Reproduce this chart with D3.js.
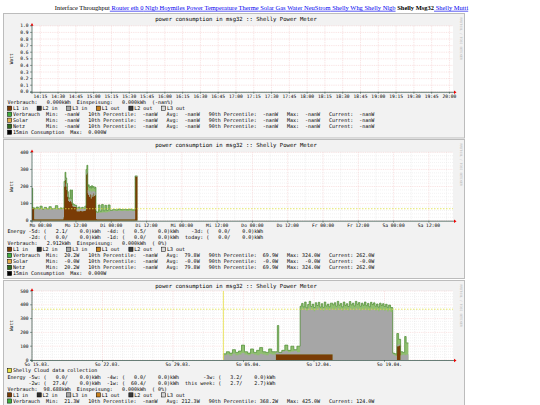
<!DOCTYPE html>
<html><head><meta charset="utf-8">
<script src="https://cdn.jsdelivr.net/npm/d3@7"></script>
<style>
body{margin:0;background:#fff;overflow:hidden}
svg text{font-family:"DejaVu Sans Mono",monospace;white-space:pre}
</style></head><body>
<svg id="c" width="540" height="405"></svg>
<script>
// ================= DATA =================
const navLabels=["Interface Throughput","Router","eth 0","Nlgb","Hoymiles","Power","Temperature","Therme","Solar","Gas","Water","NeuStrom","Shelly Whg","Shelly Nlgb","Shelly Msg32","Shelly Mutti"];
const navPlain="Interface Throughput";
const navCurrent="Shelly Msg32";

const chartTitle="power consumption in msg32 :: Shelly Power Meter";
const yAxisLabel="Watt";
const watermark="RRDTOOL / TOBI OETIKER";
const phaseNames=["L1 in","L2 in","L3 in","L1 out","L2 out","L3 out"];
const phaseColors=["#7a3c06","#2e2e2e","#a6a6a6","#c8801e","#3a3a3a","#d6d6d6"];
const seriesNames=["Verbrauch","Solar","Netz"];
const seriesColors=["#3fae3f","#e3ab4a","#2f6a1d"];
const consumptionName="15min Consumption";
const cloudName="Shelly Cloud data collection";

// ---- panel 1 (last 6 hours, no data) ----
const p1XTickMinutes=[15,30,45,60,75,90,105,120,135,150,165,180,195,210,225,240,255,270,285,300,315,330,345,360];
const p1XTickLabels=["14:15","14:30","14:45","15:00","15:15","15:30","15:45","16:00","16:15","16:30","16:45","17:00","17:15","17:30","17:45","18:00","18:15","18:30","18:45","19:00","19:15","19:30","19:45","20:00"];
const p1YTicks=[0,0.1,0.2,0.3,0.4,0.5,0.6,0.7,0.8,0.9,1.0];
const p1Summary=["0.000","0.000","-nan%"];
const p1StatMin=["-nan","-nan","-nan"];
const p1StatP10=["-nan","-nan","-nan"];
const p1StatAvg=["-nan","-nan","-nan"];
const p1StatP90=["-nan","-nan","-nan"];
const p1StatMax=["-nan","-nan","-nan"];
const p1StatCur=["-nan","-nan","-nan"];
const p1ConsMax="0.000";

// ---- panel 2 (last 6 days) hours after Mo 00:00 ----
const p2XTickHours=[0,12,24,36,48,60,72,84,96,108,120,132];
const p2XTickLabels=["Mo 00:00","Mo 12:00","Di 00:00","Di 12:00","Mi 00:00","Mi 12:00","Do 00:00","Do 12:00","Fr 00:00","Fr 12:00","Sa 00:00","Sa 12:00"];
const p2YTicks=[0,100,200,300,400];
const p2Hours=[-2.96,-2.73,-2.17,-1.5,-0.8,-0.24,0.5,1.2,2.0,2.8,3.6,4.3,5.0,5.8,6.56,7.2,7.7,7.93,8.27,8.55,8.84,9.1,9.4,9.7,9.97,10.25,10.54,10.8,11.1,11.6,12.24,12.8,13.37,13.9,14.5,15.0,15.4,15.7,16.0,16.2,16.5,16.77,17.05,17.3,17.6,17.9,18.2,18.5,18.8,19.05,19.6,20.2,20.7,21.3,21.8,22.4,22.9,23.6,24.5,25.4,26.3,27.2,28.1,29.0,30.0,31.0,32.1,32.9];
const p2L1In =[80,72,8,8,8,8,8,8,8,8,8,8,8,8,8,8,20,200,238,200,180,140,115,110,115,110,100,85,82,80,55,55,58,55,57,60,270,277,160,150,140,155,130,150,140,160,145,150,10,8,8,8,8,8,8,8,8,8,8,8,8,8,8,8,8,8,258,258];
const p2L3In =[0,0,58,60,58,60,57,60,58,59,58,60,57,60,58,60,50,20,20,15,15,15,10,10,10,10,10,5,5,5,15,15,14,15,14,12,10,10,20,25,30,20,35,25,30,15,25,20,35,38,40,38,40,42,40,42,45,50,50,48,50,48,50,49,50,48,4,4];
const p2Verbrauch=[190,76,72,80,70,85,68,78,70,82,70,72,88,70,75,72,75,230,283,250,218,170,135,130,180,130,180,100,95,90,75,80,72,78,72,85,300,324,200,210,195,200,190,205,195,200,190,195,55,50,92,55,95,58,90,60,92,62,66,64,68,65,66,65,67,64,262,262];
const p2P90=69.9;
const p2Energy=[["-5d:","2.1","0.0"],["-4d:","0.5","0.0"],["-3d:","0.0","0.0"],["-2d:","0.0","0.0"],["-1d:","0.0","0.0"],["today:","0.0","0.0"]];
const p2Summary=["2.912","0.000"," 0%"];
const p2StatMin=["20.2","-0.0","20.2"];
const p2StatP10=["-nan","-nan","-nan"];
const p2StatAvg=["79.8","-0.0","79.8"];
const p2StatP90=["69.9","-0.0","69.9"];
const p2StatMax=["324.0","-0.0","324.0"];
const p2StatCur=["262.0","-0.0","262.0"];
const p2ConsMax="0.000";

// ---- panel 3 (last 6 weeks) days after So 15.03. 00:00 ----
const p3XTickDays=[0.5,7.5,14.5,21.5,28.5,35.5];
const p3XTickLabels=["So 15.03.","So 22.03.","So 29.03.","So 05.04.","So 12.04.","So 19.04."];
const p3YTicks=[0,100,200,300,400,500];
const p3CloudStart=19.0;
const p3Days=[19.0,19.3,19.6,19.9,20.2,20.5,20.8,21.1,21.4,21.7,22.0,22.3,22.6,22.9,23.2,23.5,23.8,24.2,24.36,24.5,24.8,25.1,25.4,25.7,26.0,26.3,
 26.62,26.77,26.92,27.07,27.22,27.37,27.52,27.67,27.82,27.97,28.12,28.27,28.42,28.57,28.72,28.87,29.02,29.17,29.32,29.47,29.62,
 29.86,30.01,30.16,30.31,30.46,30.61,30.76,30.91,31.06,31.21,31.36,31.51,31.66,31.81,31.96,32.11,32.26,32.41,32.56,32.71,32.86,33.01,33.16,33.31,33.46,33.61,33.76,33.91,34.06,34.21,34.36,34.51,34.66,34.81,34.96,35.11,35.26,35.41,35.6,
 35.82,36.0,36.22,36.4,36.6,36.8,37.0,37.15,37.37];
const p3L1In =[0,0,0,0,0,0,0,0,0,0,0,0,0,0,0,0,0,42,42,42,42,42,42,42,42,42,
 42,42,42,42,42,42,42,42,42,42,42,42,42,42,42,42,42,42,42,42,42,
 0,0,0,0,0,0,0,0,0,0,0,0,0,0,0,0,0,0,0,0,0,0,0,0,0,0,0,0,0,0,0,0,0,0,0,0,0,0,0,
 0,0,100,105,0,0,0,0,0];
const p3L3In =[35,40,30,45,35,40,50,40,35,45,40,35,45,40,35,45,40,10,15,10,20,25,15,20,25,15,
 318,330,322,335,315,328,338,320,326,312,330,322,336,318,328,314,332,320,326,316,330,
 365,372,360,376,364,370,356,374,362,368,358,376,364,370,360,378,366,372,358,370,362,374,360,368,356,372,364,370,358,366,354,370,360,366,356,364,352,360,348,
 40,30,10,10,35,40,35,40,40];
const p3Verbrauch=[45,60,50,75,55,65,108,60,50,80,55,70,90,60,55,80,60,60,250,55,70,108,70,100,75,100,
 390,410,385,420,378,402,425,388,405,380,415,395,418,384,408,382,420,392,405,386,412,
 400,415,390,425,398,410,385,420,396,408,388,424,400,412,392,425,404,416,390,412,398,420,394,410,386,418,402,414,390,406,384,412,396,408,388,404,382,398,380,
 50,45,192,150,60,55,170,124,124];
const p3P90=368.2;
const p3Energy=[["-5w:","0.0","0.0"],["-4w:","0.0","0.0"],["-3w:","3.2","0.0"],["-2w:","27.4","0.0"],["-1w:","60.4","0.0"],["this week:","2.7","2.7"]];
const p3Summary=["98.688","0.000"," 0%"];
const p3StatMin=["21.3"];
const p3StatP10=["-nan"];
const p3StatAvg=["212.3"];
const p3StatP90=["368.2"];
const p3StatMax=["425.0"];
const p3StatCur=["124.0"];

// ================= DRAW =================
const svg=d3.select("#c");
const FS=5.0;
const PX0=32, PX1=453;
const BX0=3.5, BX1=464.5;

(function(){
  const t=svg.append("text").attr("x",261.5).attr("y",9.8).attr("text-anchor","middle")
    .style("font-family","'Liberation Serif','DejaVu Serif',serif").style("font-size","6.48px").style("white-space","normal");
  navLabels.forEach((n,i)=>{
    const s=t.append("tspan").text((i?" ":"")+n);
    if(n===navPlain){s.attr("fill","#000");}
    else if(n===navCurrent){s.attr("fill","#000").style("font-weight","bold");}
    else {s.attr("fill","#0000ee").style("text-decoration","underline");}
  });
})();

const fmtW=v=>(v+"W").padStart(7);
function statRow(name,mn,p10,av,p90,mx,cu){
  return name.padEnd(10)+" Min:"+fmtW(mn)+"   10th Percentile:"+fmtW(p10)+"   Avg:"+fmtW(av)+"   90th Percentile:"+fmtW(p90)+"   Max:"+fmtW(mx)+"   Current:"+fmtW(cu);
}
function swatch(g,x,yc,color){
  g.append("rect").attr("x",x).attr("y",yc-2.2).attr("width",4.2).attr("height",4.2)
    .attr("fill",color).attr("stroke","#000").attr("stroke-width",0.5);
}
function txt(g,x,yc,s,opt={}){
  return g.append("text").attr("x",x).attr("y",yc+1.8).attr("xml:space","preserve")
    .style("font-size",(opt.fs||FS)+"px").attr("fill",opt.fill||"#000")
    .attr("text-anchor",opt.anchor||"start").text(s);
}

function drawPanel(cfg){
  const g=svg.append("g");
  g.append("rect").attr("x",BX0).attr("y",cfg.boxTop).attr("width",BX1-BX0).attr("height",cfg.boxH)
    .attr("fill","#f2f2f2").attr("stroke","#bcbcbc").attr("stroke-width",1);
  g.append("text").attr("transform",`translate(${BX1-4.2},${cfg.boxTop+4}) rotate(90)`)
    .style("font-size","3.2px").attr("fill","#b8b8b8").text(watermark);
  txt(g,236,cfg.boxTop+5.3,chartTitle,{fs:5.6,anchor:"middle"});
  const x=cfg.x, y=cfg.y;
  const top=y.range()[1], bot=y.range()[0];
  g.append("rect").attr("x",PX0).attr("y",top).attr("width",PX1-PX0).attr("height",bot-top).attr("fill","#fff");
  const grid=g.append("g");
  cfg.yMinor.forEach(v=>grid.append("line").attr("x1",PX0).attr("x2",PX1).attr("y1",y(v)).attr("y2",y(v))
    .attr("stroke","#e2e2e2").attr("stroke-width",0.45).attr("stroke-dasharray","1,1"));
  cfg.xMinor.forEach(v=>grid.append("line").attr("x1",x(v)).attr("x2",x(v)).attr("y1",top).attr("y2",bot)
    .attr("stroke","#e2e2e2").attr("stroke-width",0.45).attr("stroke-dasharray","1,1"));
  cfg.yTicks.forEach(v=>grid.append("line").attr("x1",PX0).attr("x2",PX1).attr("y1",y(v)).attr("y2",y(v))
    .attr("stroke","#f3c6c6").attr("stroke-width",0.5).attr("stroke-dasharray","1,0.8"));
  cfg.xMajor.forEach(v=>grid.append("line").attr("x1",x(v)).attr("x2",x(v)).attr("y1",top).attr("y2",bot)
    .attr("stroke","#f3c6c6").attr("stroke-width",0.5).attr("stroke-dasharray","1,0.8"));
  if(cfg.t){
    const clipId="clip"+cfg.id;
    g.append("clipPath").attr("id",clipId).append("rect").attr("x",PX0).attr("y",top).attr("width",PX1-PX0).attr("height",bot-top);
    const dg=g.append("g").attr("clip-path",`url(#${clipId})`);
    const rows=cfg.t.map((t,i)=>({t,l1:cfg.l1[i],l3:cfg.l3[i],v:cfg.v[i]}));
    const stack=d3.stack().keys(["l1","l3"])(rows);
    const area=d3.area().curve(d3.curveStepAfter).x(d=>x(d.data.t)).y0(d=>y(d[0])).y1(d=>y(d[1]));
    const vArea=d3.area().curve(d3.curveStepAfter).x(d=>x(d.t)).y0(y(0)).y1(d=>y(d.v));
    const vLine=d3.line().curve(d3.curveStepAfter).x(d=>x(d.t)).y(d=>y(d.v));
    dg.append("path").datum(rows).attr("d",vArea).attr("fill","#8fbf6f");
    dg.append("path").datum(stack[0]).attr("d",area).attr("fill",phaseColors[0]);
    dg.append("path").datum(stack[1]).attr("d",area).attr("fill",phaseColors[2]);
    dg.append("path").datum(rows).attr("d",vLine).attr("fill","none").attr("stroke","#4a8a30").attr("stroke-width",0.7);
  }
  if(cfg.p90!==undefined){
    g.append("line").attr("x1",PX0).attr("x2",PX1).attr("y1",y(cfg.p90)).attr("y2",y(cfg.p90))
      .attr("stroke","#e0e040").attr("stroke-width",0.8).attr("stroke-dasharray","1.5,1.5");
  }
  if(cfg.vline!==undefined){
    g.append("line").attr("x1",x(cfg.vline)).attr("x2",x(cfg.vline)).attr("y1",top).attr("y2",bot)
      .attr("stroke","#e8e040").attr("stroke-width",0.8);
  }
  g.append("line").attr("x1",PX0-2).attr("x2",PX1+1).attr("y1",bot+0.5).attr("y2",bot+0.5).attr("stroke","#2c4d43").attr("stroke-width",0.7);
  g.append("line").attr("x1",PX0).attr("x2",PX0).attr("y1",top-1).attr("y2",bot+2).attr("stroke","#2c4d43").attr("stroke-width",0.7);
  g.append("path").attr("d",`M${PX1+1},${bot-1.2}L${PX1+3.5},${bot+0.5}L${PX1+1},${bot+2.2}Z`).attr("fill","#e00");
  g.append("path").attr("d",`M${PX0-1.5},${top}L${PX0},${top-2.8}L${PX0+1.5},${top}Z`).attr("fill","#e00");
  cfg.yTicks.forEach(v=>{
    g.append("line").attr("x1",PX0-2).attr("x2",PX0).attr("y1",y(v)).attr("y2",y(v)).attr("stroke","#2c4d43").attr("stroke-width",0.5);
    txt(g,PX0-3.5,y(v)-0.2,cfg.yFmt(v),{fs:4.6,anchor:"end"});
  });
  cfg.xMajor.forEach(v=>g.append("line").attr("x1",x(v)).attr("x2",x(v)).attr("y1",bot).attr("y2",bot+2).attr("stroke","#2c4d43").attr("stroke-width",0.5));
  cfg.xLabelPos.forEach((v,i)=>txt(g,x(v),bot+4.6,cfg.xLabels[i],{fs:4.6,anchor:"middle"}));
  g.append("text").attr("transform",`translate(${12.5},${(top+bot)/2}) rotate(-90)`).attr("text-anchor","middle")
    .style("font-size","4.6px").text(yAxisLabel);
  let yc=cfg.legendTop;
  const L=cfg.legend;
  if(L.cloud){swatch(g,7.5,yc,"#e8e040");txt(g,13,yc,cloudName);yc+=cfg.rowH;}
  if(L.energy){
    const e=L.energy, w3=L.eLabW;
    const part=(k,w)=>(e[k][0].padStart(w))+" ("+e[k][1].padStart(6)+"/"+e[k][2].padStart(7)+")kWh";
    txt(g,7.5,yc,"Energy "+part(0,4)+"  "+part(1,4)+"  "+part(2,w3));yc+=cfg.rowH;
    txt(g,7.5,yc,"       "+part(3,4)+"  "+part(4,4)+"  "+part(5,w3));yc+=cfg.rowH;
  }
  txt(g,7.5,yc,"Verbrauch: "+L.summary[0].padStart(7)+"kWh  Einspeisung: "+L.summary[1].padStart(7)+"kWh  ("+L.summary[2]+")");yc+=cfg.rowH;
  let xx=7.5;
  phaseNames.forEach((n,i)=>{swatch(g,xx,yc,phaseColors[i]);txt(g,xx+5.5,yc,n);xx+=5.5+(n.length+3)*FS*0.602;});
  yc+=cfg.rowH;
  L.min.forEach((_,i)=>{
    const n=seriesNames[i];
    swatch(g,7.5,yc,seriesColors[i]);
    txt(g,13,yc,statRow(n,L.min[i],L.p10[i],L.avg[i],L.p90[i],L.max[i],L.cur[i]));
    yc+=cfg.rowH;
  });
  if(L.cons!==undefined){swatch(g,7.5,yc,"#000");txt(g,13,yc,consumptionName+"  Max:  "+L.cons+"W");}
}

{
  const x=d3.scaleLinear().domain([8,363]).range([PX0,PX1]);
  const y=d3.scaleLinear().domain([0,1]).range([91.8,25.8]);
  drawPanel({id:1,boxTop:13.5,boxH:124.5,x,y,yTicks:p1YTicks,yMinor:[],xMinor:[],xMajor:p1XTickMinutes,
    xLabelPos:p1XTickMinutes,xLabels:p1XTickLabels,yFmt:d3.format(".1f"),legendTop:102.3,rowH:6.0,
    legend:{summary:p1Summary,min:p1StatMin,p10:p1StatP10,avg:p1StatAvg,p90:p1StatP90,max:p1StatMax,cur:p1StatCur,cons:p1ConsMax}});
}
{
  const x=d3.scaleLinear().domain([-2.96,140.2]).range([PX0,PX1]);
  const y=d3.scaleLinear().domain([0,400]).range([220.7,152.3]);
  const minor=d3.range(6,140,12);
  drawPanel({id:2,boxTop:139.5,boxH:139,x,y,yTicks:p2YTicks,yMinor:d3.range(20,400,20).filter(v=>v%100),xMinor:minor,xMajor:p2XTickHours,
    xLabelPos:p2XTickHours,xLabels:p2XTickLabels,yFmt:d3.format("d"),legendTop:231.2,rowH:6.05,
    t:p2Hours,l1:p2L1In,l3:p2L3In,v:p2Verbrauch,p90:p2P90,
    legend:{energy:p2Energy,eLabW:6,summary:p2Summary,min:p2StatMin,p10:p2StatP10,avg:p2StatAvg,p90:p2StatP90,max:p2StatMax,cur:p2StatCur,cons:p2ConsMax}});
}
{
  const x=d3.scaleLinear().domain([0,41.8]).range([PX0,PX1]);
  const y=d3.scaleLinear().domain([0,500]).range([360,291]);
  const days=d3.range(0,42,1).filter(d=>d%7);
  drawPanel({id:3,boxTop:280.5,boxH:140,x,y,yTicks:p3YTicks,yMinor:d3.range(20,500,20).filter(v=>v%100),xMinor:days,xMajor:d3.range(0,42,7),
    xLabelPos:p3XTickDays,xLabels:p3XTickLabels,yFmt:d3.format("d"),legendTop:370.6,rowH:6.1,
    t:p3Days,l1:p3L1In,l3:p3L3In,v:p3Verbrauch,p90:p3P90,vline:p3CloudStart,
    legend:{cloud:true,energy:p3Energy,eLabW:10,summary:p3Summary,min:p3StatMin,p10:p3StatP10,avg:p3StatAvg,p90:p3StatP90,max:p3StatMax,cur:p3StatCur}});
}
</script></body></html>
